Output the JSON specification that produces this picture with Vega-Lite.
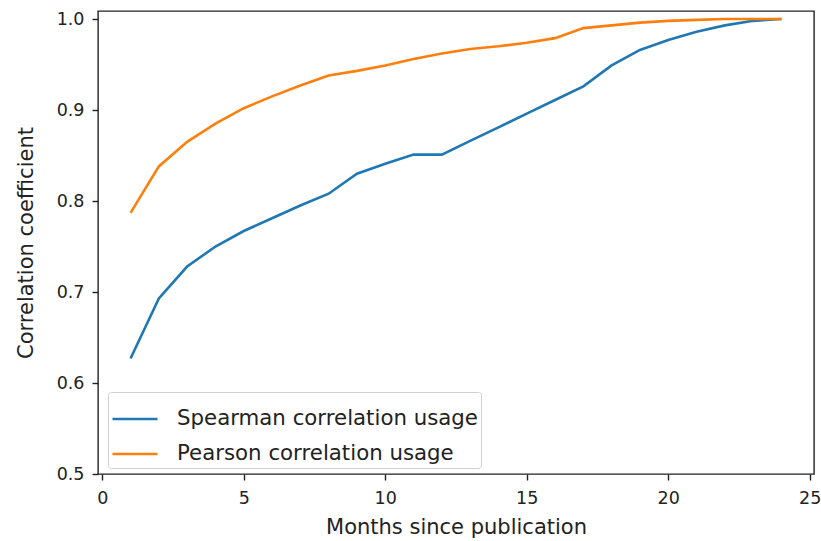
{
  "$schema": "https://vega.github.io/schema/vega-lite/v6.json",
  "width": 716,
  "height": 463,
  "autosize": {"type": "none"},
  "padding": {"left": 98, "top": 11, "right": 7, "bottom": 67},
  "background": "white",
  "config": {
    "view": {"stroke": "#222", "strokeWidth": 1.4},
    "font": "DejaVu Sans",
    "axis": {
      "grid": false,
      "domain": false,
      "tickColor": "#222",
      "tickWidth": 1.4,
      "tickSize": 6,
      "labelFont": "DejaVu Sans",
      "labelFontSize": 17.5,
      "labelColor": "#222",
      "titleFont": "DejaVu Sans",
      "titleFontSize": 21,
      "titleFontWeight": "normal",
      "titleColor": "#222"
    },
    "legend": {
      "orient": "none",
      "legendX": 10,
      "legendY": 381,
      "symbolType": "stroke",
      "symbolSize": 2025,
      "symbolStrokeWidth": 2.6,
      "labelFont": "DejaVu Sans",
      "labelFontSize": 21.3,
      "labelColor": "#222",
      "labelLimit": 0,
      "labelOffset": 18,
      "strokeColor": "#d0d0d0",
      "fillColor": "rgba(255,255,255,0.8)",
      "cornerRadius": 3,
      "padding": 3,
      "rowPadding": 0
    }
  },
  "data": {
    "values": [
      {"month": 1, "series": "Spearman correlation usage", "value": 0.627},
      {"month": 2, "series": "Spearman correlation usage", "value": 0.693},
      {"month": 3, "series": "Spearman correlation usage", "value": 0.728},
      {"month": 4, "series": "Spearman correlation usage", "value": 0.750},
      {"month": 5, "series": "Spearman correlation usage", "value": 0.767},
      {"month": 6, "series": "Spearman correlation usage", "value": 0.781},
      {"month": 7, "series": "Spearman correlation usage", "value": 0.795},
      {"month": 8, "series": "Spearman correlation usage", "value": 0.808},
      {"month": 9, "series": "Spearman correlation usage", "value": 0.830},
      {"month": 10, "series": "Spearman correlation usage", "value": 0.841},
      {"month": 11, "series": "Spearman correlation usage", "value": 0.851},
      {"month": 12, "series": "Spearman correlation usage", "value": 0.851},
      {"month": 13, "series": "Spearman correlation usage", "value": 0.866},
      {"month": 14, "series": "Spearman correlation usage", "value": 0.881},
      {"month": 15, "series": "Spearman correlation usage", "value": 0.896},
      {"month": 16, "series": "Spearman correlation usage", "value": 0.911},
      {"month": 17, "series": "Spearman correlation usage", "value": 0.926},
      {"month": 18, "series": "Spearman correlation usage", "value": 0.949},
      {"month": 19, "series": "Spearman correlation usage", "value": 0.966},
      {"month": 20, "series": "Spearman correlation usage", "value": 0.977},
      {"month": 21, "series": "Spearman correlation usage", "value": 0.986},
      {"month": 22, "series": "Spearman correlation usage", "value": 0.993},
      {"month": 23, "series": "Spearman correlation usage", "value": 0.998},
      {"month": 24, "series": "Spearman correlation usage", "value": 1.0},
      {"month": 1, "series": "Pearson correlation usage", "value": 0.787},
      {"month": 2, "series": "Pearson correlation usage", "value": 0.838},
      {"month": 3, "series": "Pearson correlation usage", "value": 0.865},
      {"month": 4, "series": "Pearson correlation usage", "value": 0.885},
      {"month": 5, "series": "Pearson correlation usage", "value": 0.902},
      {"month": 6, "series": "Pearson correlation usage", "value": 0.915},
      {"month": 7, "series": "Pearson correlation usage", "value": 0.927},
      {"month": 8, "series": "Pearson correlation usage", "value": 0.938},
      {"month": 9, "series": "Pearson correlation usage", "value": 0.943},
      {"month": 10, "series": "Pearson correlation usage", "value": 0.949},
      {"month": 11, "series": "Pearson correlation usage", "value": 0.956},
      {"month": 12, "series": "Pearson correlation usage", "value": 0.962},
      {"month": 13, "series": "Pearson correlation usage", "value": 0.967},
      {"month": 14, "series": "Pearson correlation usage", "value": 0.970},
      {"month": 15, "series": "Pearson correlation usage", "value": 0.974},
      {"month": 16, "series": "Pearson correlation usage", "value": 0.979},
      {"month": 17, "series": "Pearson correlation usage", "value": 0.990},
      {"month": 18, "series": "Pearson correlation usage", "value": 0.993},
      {"month": 19, "series": "Pearson correlation usage", "value": 0.996},
      {"month": 20, "series": "Pearson correlation usage", "value": 0.998},
      {"month": 21, "series": "Pearson correlation usage", "value": 0.999},
      {"month": 22, "series": "Pearson correlation usage", "value": 1.0},
      {"month": 23, "series": "Pearson correlation usage", "value": 1.0},
      {"month": 24, "series": "Pearson correlation usage", "value": 1.0}
    ]
  },
  "mark": {"type": "line", "strokeWidth": 2.6, "clip": true},
  "encoding": {
    "x": {
      "field": "month",
      "type": "quantitative",
      "scale": {"domain": [-0.15, 25.15], "nice": false, "zero": false},
      "axis": {"title": "Months since publication", "values": [0, 5, 10, 15, 20, 25], "format": "d", "labelPadding": 9, "titlePadding": 10}
    },
    "y": {
      "field": "value",
      "type": "quantitative",
      "scale": {"domain": [0.5, 1.0088], "nice": false, "zero": false},
      "axis": {"title": "Correlation coefficient", "values": [0.5, 0.6, 0.7, 0.8, 0.9, 1.0], "format": ".1f", "labelPadding": 8, "titlePadding": 20}
    },
    "color": {
      "field": "series",
      "type": "nominal",
      "scale": {"domain": ["Spearman correlation usage", "Pearson correlation usage"], "range": ["#1f77b4", "#ff7f0e"]},
      "legend": {"title": null}
    }
  }
}
